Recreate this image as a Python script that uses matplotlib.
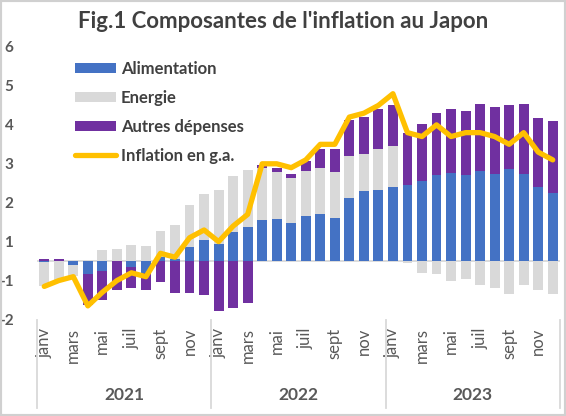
import matplotlib
matplotlib.use("Agg")
import matplotlib.pyplot as plt
from matplotlib.patches import Rectangle
from matplotlib.lines import Line2D
import numpy as np

plt.rcParams['font.family'] = ['Lato', 'DejaVu Sans']

years = ["2021", "2022", "2023"]
month_names = ["janv", "févr", "mars", "avr", "mai", "juin", "juil", "août", "sept", "oct", "nov", "déc"]
shown_months = ["janv", "mars", "mai", "juil", "sept", "nov"]

alimentation = [-0.03, 0.00, -0.09, -0.33, -0.26, 0.00, -0.15, -0.30, 0.11, 0.05, 0.36, 0.54,
                0.43, 0.74, 0.88, 1.05, 1.08, 0.98, 1.15, 1.22, 1.10, 1.62, 1.79, 1.82,
                1.91, 1.95, 2.06, 2.21, 2.26, 2.21, 2.32, 2.25, 2.36, 2.25, 1.91, 1.75]
energie = [-0.62, -0.52, -0.28, 0.00, 0.28, 0.30, 0.41, 0.38, 0.66, 0.87, 1.09, 1.18,
           1.39, 1.44, 1.47, 1.35, 1.20, 1.15, 1.17, 1.18, 1.18, 1.07, 0.95, 1.07,
           1.04, -0.04, -0.30, -0.33, -0.51, -0.47, -0.62, -0.70, -0.84, -0.62, -0.74, -0.84]
autres = [0.06, 0.05, 0.00, -0.80, -0.73, -0.74, -0.54, -0.45, -0.53, -0.81, -0.81, -0.87,
          -1.27, -1.21, -1.08, 0.06, 0.12, 0.12, 0.24, 0.49, 0.61, 0.93, 0.96, 1.02,
          1.05, 1.34, 1.47, 1.59, 1.66, 1.64, 1.71, 1.72, 1.64, 1.78, 1.77, 1.84]
inflation = [-0.65, -0.5, -0.4, -1.15, -0.8, -0.5, -0.3, -0.4, 0.2, 0.1, 0.6, 0.8,
             0.5, 0.9, 1.2, 2.5, 2.5, 2.4, 2.6, 3.0, 3.0, 3.7, 3.8, 4.0,
             4.3, 3.3, 3.2, 3.5, 3.2, 3.3, 3.3, 3.2, 3.0, 3.3, 2.8, 2.6]

ytick_vals = [-1.5, -0.5, 0.5, 1.5, 2.5, 3.5, 4.5, 5.5]
ytick_labels = ["-2", "-1", "1", "2", "3", "4", "5", "6"]

series = [("Alimentation", alimentation, "#4472C4"),
          ("Energie", energie, "#D9D9D9"),
          ("Autres dépenses", autres, "#7030A0")]

W, H = 566, 416
fig = plt.figure(figsize=(W / 100, H / 100), dpi=100)
x0, x1, ytop, ybot = 37, 560, 47, 319.5
ax = fig.add_axes([x0 / W, (H - ybot) / H, (x1 - x0) / W, (ybot - ytop) / H])

n = len(inflation)
x = np.arange(n)
pos = np.zeros(n)
neg = np.zeros(n)
handles = []
for name, vals, col in series:
    v = np.array(vals)
    bottom = np.where(v >= 0, pos, neg)
    h = ax.bar(x, v, bottom=bottom, width=0.68, color=col, label=name, zorder=2)
    handles.append(h)
    pos = pos + np.where(v >= 0, v, 0)
    neg = neg + np.where(v < 0, v, 0)

ln, = ax.plot(x, inflation, color="#FFC000", lw=3.8, solid_joinstyle="round",
              solid_capstyle="round", label="Inflation en g.a.", zorder=3)
handles.append(ln)

ax.axhline(0, color="#D9D9D9", lw=1.3, zorder=1)
ax.set_xlim(-0.5, n - 0.5)
ax.set_ylim(-1.5, 5.5)
for s in ax.spines.values():
    s.set_visible(False)

ax.set_yticks(ytick_vals)
ax.set_yticklabels(ytick_labels, fontsize=11, fontweight="bold", color="#595959")
ax.tick_params(axis="y", length=0, pad=17)

tick_pos, tick_lab = [], []
for yi, yr in enumerate(years):
    for mi, m in enumerate(month_names):
        if m in shown_months:
            tick_pos.append(yi * 12 + mi)
            tick_lab.append(m)
ax.set_xticks(tick_pos)
ax.set_xticklabels(tick_lab, rotation=90, fontsize=12, color="#595959")
ax.tick_params(axis="x", length=0, pad=6)

trans = ax.get_xaxis_transform()
sep_bottom = -(408 - ybot) / (ybot - ytop)
for b in range(len(years) + 1):
    xb = b * 12 - 0.5
    ax.add_line(Line2D([xb, xb], [0, sep_bottom], transform=trans, color="#D9D9D9",
                       lw=1.3, clip_on=False))
year_y = -(395 - ybot) / (ybot - ytop)
for yi, yr in enumerate(years):
    ax.text(yi * 12 + 5.5, year_y, yr, transform=trans, ha="center", va="center",
            fontsize=12.5, fontweight="bold", color="#595959")

fig.text(283 / W, 1 - 22 / H, "Fig.1 Composantes de l'inflation au Japon", ha="center",
         va="center", fontsize=16, fontweight="bold", color="#404040")

leg = ax.legend(handles=handles, loc="upper left", bbox_to_anchor=(75 / W, 1 - 61 / H),
                bbox_transform=fig.transFigure, frameon=False, fontsize=12,
                handlelength=2.45, handleheight=0.6, handletextpad=0.3,
                labelspacing=0.78, borderaxespad=0, borderpad=0)
for t in leg.get_texts():
    t.set_color("#404040")
    t.set_fontweight("bold")

fig.add_artist(Rectangle((0, 0), 1, 1, transform=fig.transFigure, fill=False,
                         edgecolor="#D0D0D0", lw=3, zorder=10))

fig.savefig("out.png", dpi=100)
